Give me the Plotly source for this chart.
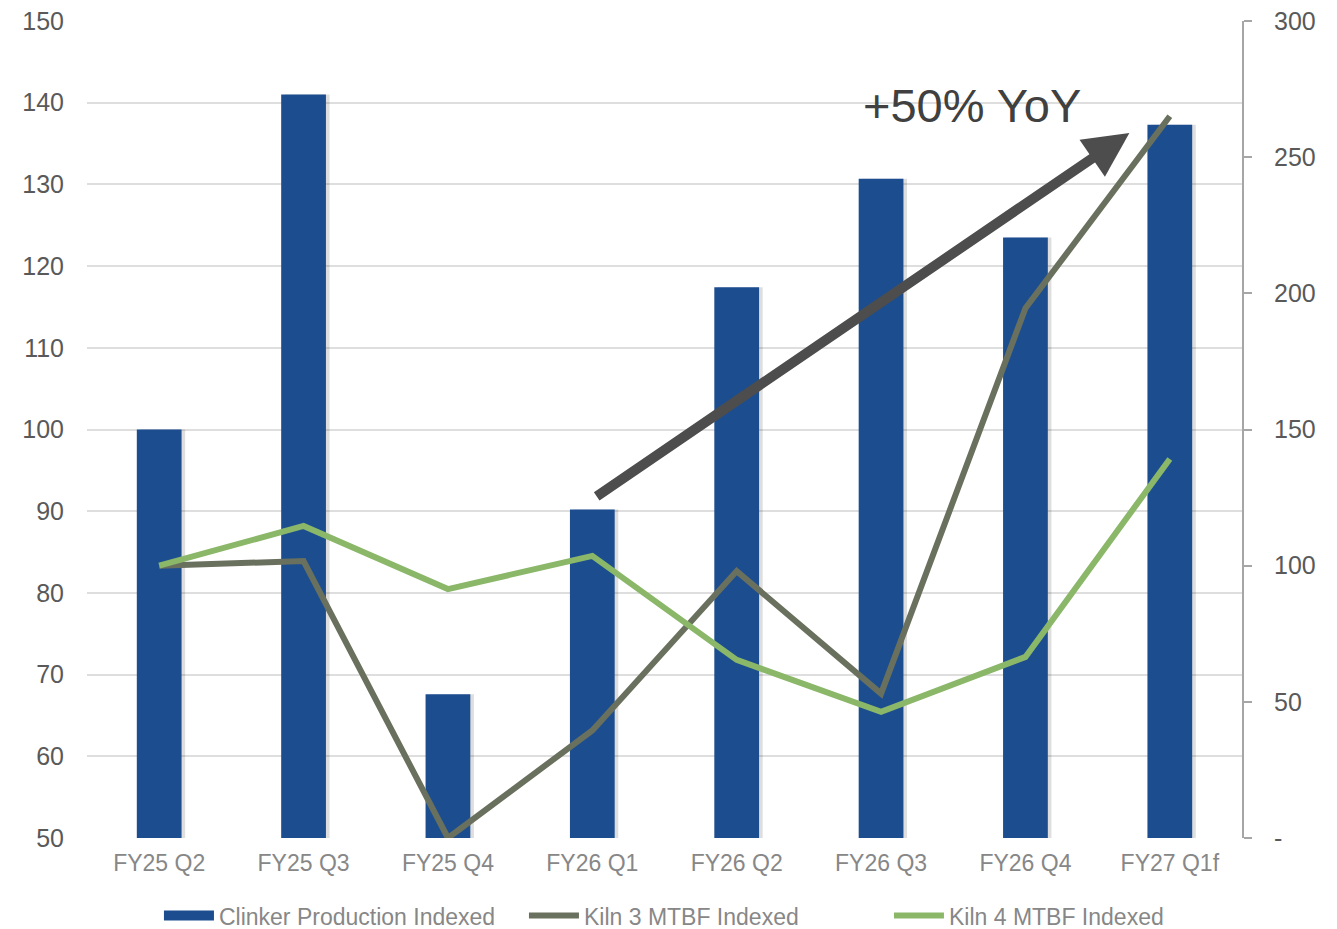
import plotly.graph_objects as go

categories = ["FY25 Q2", "FY25 Q3", "FY25 Q4", "FY26 Q1", "FY26 Q2", "FY26 Q3", "FY26 Q4", "FY27 Q1f"]
clinker = [100.0, 141.0, 67.6, 90.2, 117.4, 130.7, 123.5, 137.3]
kiln3 = [100, 101.7, 0, 39.5, 98, 53, 194.5, 265]
kiln4 = [100, 114.6, 91.4, 103.6, 65.4, 46.3, 66.5, 139.2]
left_ticks = [50, 60, 70, 80, 90, 100, 110, 120, 130, 140, 150]
right_ticks = [0, 50, 100, 150, 200, 250, 300]
right_ticktext = ["-", "50", "100", "150", "200", "250", "300"]

FONT = "Liberation Sans, Arial, sans-serif"
BAR = "#1C4E8F"
K3 = "#6A705E"
K4 = "#8BB769"
BW = 0.31

fig = go.Figure()
# subtle shadow behind bars
fig.add_trace(go.Bar(x=categories, y=clinker, width=BW, offset=-BW / 2 + 0.025,
                     marker=dict(color="rgba(0,0,0,0.13)", line=dict(width=0)),
                     showlegend=False, hoverinfo="skip"))
fig.add_trace(go.Bar(x=categories, y=clinker, width=BW, offset=-BW / 2,
                     name="Clinker Production Indexed", showlegend=False,
                     marker=dict(color=BAR, line=dict(width=0))))
# legend proxy for bar series (wide rectangle symbol)
fig.add_trace(go.Scatter(x=[None], y=[None], name="Clinker Production Indexed",
                         mode="lines", line=dict(color=BAR, width=12)))
fig.add_trace(go.Scatter(x=categories, y=kiln3, name="Kiln 3 MTBF Indexed", yaxis="y2",
                         mode="lines", line=dict(color=K3, width=6)))
fig.add_trace(go.Scatter(x=categories, y=kiln4, name="Kiln 4 MTBF Indexed", yaxis="y2",
                         mode="lines", line=dict(color=K4, width=6)))

fig.update_layout(
    width=1337, height=929,
    margin=dict(l=87, r=95, t=21, b=91, autoexpand=False),
    paper_bgcolor="white", plot_bgcolor="white",
    barmode="overlay",
    font=dict(family=FONT, color="#595959"),
    xaxis=dict(type="category", showline=False, showgrid=False, ticks="",
               tickfont=dict(size=23, color="#878787"), ticklabelstandoff=9),
    yaxis=dict(range=[50, 150], tickvals=left_ticks, showgrid=True, gridcolor="#DEDEDE",
               gridwidth=2, zeroline=False, showline=False, ticks="",
               tickfont=dict(size=25, color="#595959"), ticklabelstandoff=22),
    yaxis2=dict(range=[0, 300], tickvals=right_ticks, ticktext=right_ticktext,
                overlaying="y", side="right", showgrid=False, zeroline=False,
                showline=True, linecolor="#A6A6A6", linewidth=2,
                ticks="outside", ticklen=8, tickcolor="#A6A6A6", tickwidth=1.5,
                tickfont=dict(size=25, color="#595959"), ticklabelstandoff=17),
    legend=dict(orientation="h", x=0.0623, xanchor="left", y=-0.095, yanchor="middle",
                font=dict(size=23, color="#878787"), itemwidth=50,
                entrywidth=300, entrywidthmode="pixels",
                traceorder="normal", bgcolor="rgba(0,0,0,0)"),
    showlegend=True,
)

fig.add_annotation(
    x=6.72, y=136.3, xref="x", yref="y",
    ax=3.02, ay=91.7, axref="x", ayref="y",
    showarrow=True, arrowhead=2, arrowsize=0.9, arrowwidth=10, arrowcolor="#4D4D4D",
    text="",
)
fig.add_annotation(
    x=5.63, y=139.7, xref="x", yref="y", text="+50% YoY", showarrow=False,
    font=dict(size=47, color="#404040", family=FONT), xanchor="center", yanchor="middle",
)

fig.write_html("out.html")
